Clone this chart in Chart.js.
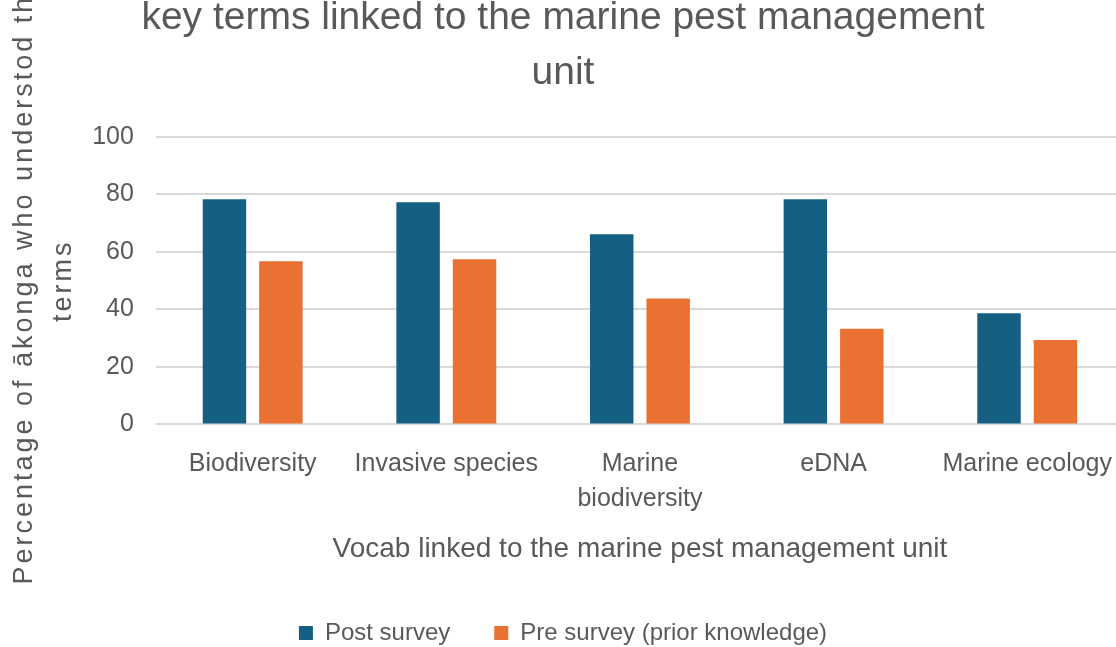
<!DOCTYPE html>
<html>
<head>
<meta charset="utf-8">
<script src="https://cdn.jsdelivr.net/npm/chart.js@4.4.1/dist/chart.umd.min.js"></script>
<style>
    html, body { margin: 0; padding: 0; background: #fff; overflow: hidden; }
    #wrap { position: absolute; left: 0; top: -50px; width: 1126px; height: 697px; }
</style>
</head>
<body>
<div id="wrap"><canvas id="chart"></canvas></div>
<script>
// Chart data
const categories = ['Biodiversity', 'Invasive species', ['Marine', 'biodiversity'], 'eDNA', 'Marine ecology'];
const postSurvey = [78.3, 77.3, 66.2, 78.3, 38.7];
const preSurvey = [56.8, 57.5, 43.8, 33.3, 29.4];
const yTicks = [0, 20, 40, 60, 80, 100];
const seriesNames = ['Post survey', 'Pre survey (prior knowledge)'];
const titleLines = ['key terms linked to the marine pest management', 'unit'];
const xTitle = 'Vocab linked to the marine pest management unit';
const yTitle = ['Percentage of ākonga who understod the', 'terms'];

const FONT = "'Liberation Sans', Arial, sans-serif";
const TEXT = '#595959';

// wrap a draw method so its text gets some letter spacing
function withSpacing(obj, method, spacing) {
    if (!obj || typeof obj[method] !== 'function') return;
    obj._spaced = obj._spaced || {};
    if (obj._spaced[method]) return;
    const orig = obj[method];
    obj[method] = function (...args) {
        const ctx = this.ctx;
        const prev = ctx.letterSpacing;
        ctx.letterSpacing = spacing;
        try {
            return orig.apply(this, args);
        } finally {
            ctx.letterSpacing = prev;
        }
    };
    obj._spaced[method] = true;
}

const spacingPlugin = {
    id: 'spacing',
    beforeLayout(chart) {
        withSpacing(chart.scales.y, 'drawTitle', '3px');
    }
};

new Chart(document.getElementById('chart'), {
    type: 'bar',
    data: {
        labels: categories,
        datasets: [
            {
                label: seriesNames[0],
                data: postSurvey,
                backgroundColor: '#156082',
                categoryPercentage: 0.583,
                barPercentage: 0.77
            },
            {
                label: seriesNames[1],
                data: preSurvey,
                backgroundColor: '#E97132',
                categoryPercentage: 0.583,
                barPercentage: 0.77
            }
        ]
    },
    options: {
        responsive: true,
        maintainAspectRatio: false,
        animation: false,
        layout: { padding: { left: 0, right: 0, top: 0, bottom: -8 } },
        plugins: {
            title: {
                display: true,
                text: titleLines,
                color: TEXT,
                font: { family: FONT, size: 39, weight: 'normal', lineHeight: 1.41 },
                padding: { top: 41, bottom: 36 }
            },
            legend: {
                position: 'bottom',
                labels: {
                    boxWidth: 14,
                    boxHeight: 14,
                    padding: 44,
                    color: TEXT,
                    font: { family: FONT, size: 24 }
                }
            },
            tooltip: { enabled: false }
        },
        scales: {
            x: {
                grid: { display: false },
                border: { display: false },
                ticks: {
                    color: TEXT,
                    padding: 14,
                    font: { family: FONT, size: 25, lineHeight: 1.4 },
                    maxRotation: 0,
                    autoSkip: false
                },
                title: {
                    display: true,
                    text: xTitle,
                    color: TEXT,
                    font: { family: FONT, size: 28, lineHeight: 1.2 },
                    padding: { top: 2, bottom: 11 }
                }
            },
            y: {
                min: 0,
                max: 100,
                afterBuildTicks(scale) {
                    scale.ticks = yTicks.map(v => ({ value: v }));
                },
                grid: { color: '#d9d9d9', lineWidth: 2, drawTicks: false },
                border: { display: false },
                ticks: {
                    color: TEXT,
                    padding: 22,
                    font: { family: FONT, size: 25 }
                },
                title: {
                    display: true,
                    text: yTitle,
                    color: TEXT,
                    font: { family: FONT, size: 27, lineHeight: 1.41 },
                    padding: { top: 6, bottom: -12 }
                }
            }
        }
    },
    plugins: [spacingPlugin]
});
</script>
</body>
</html>
